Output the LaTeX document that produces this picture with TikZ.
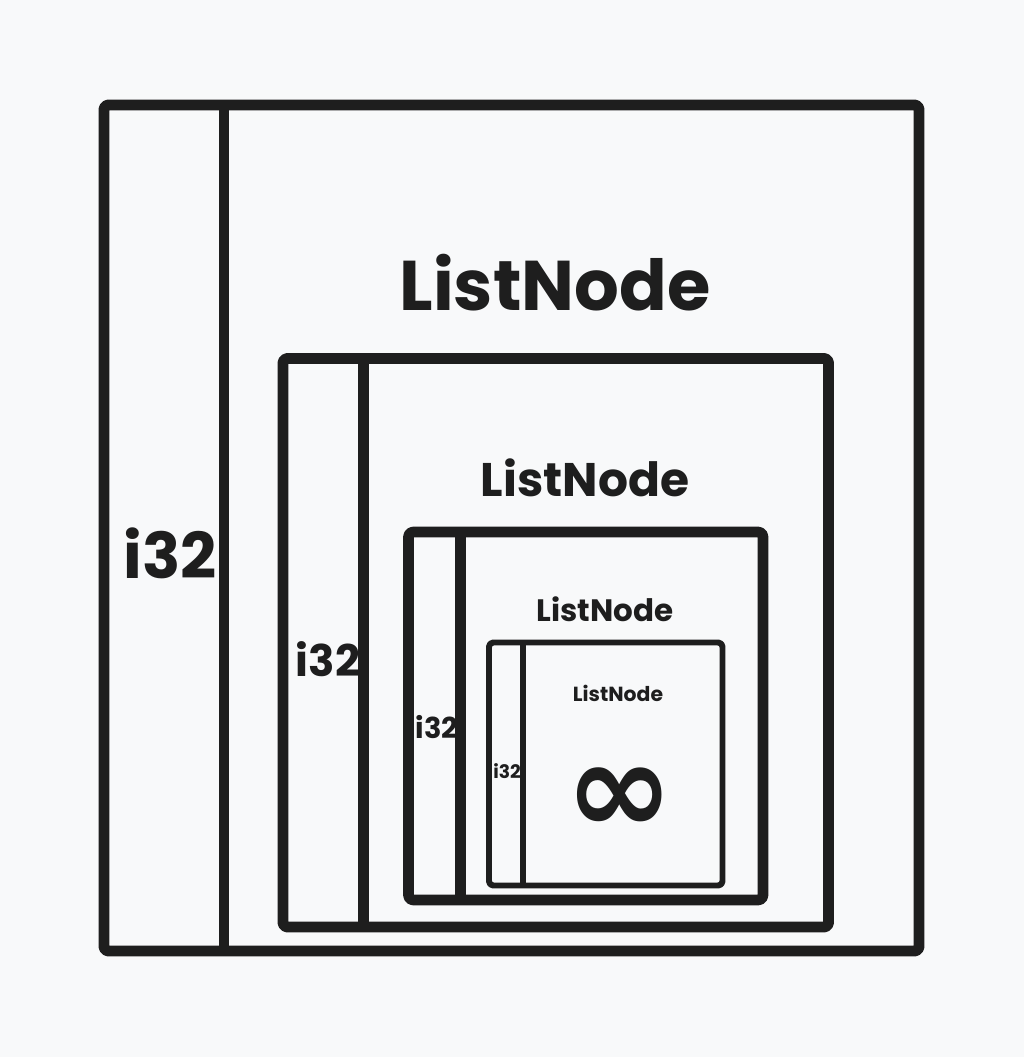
\documentclass[tikz,border=0pt]{standalone}
\usepackage{fontspec}
\setmainfont{Poppins}
\newfontfamily\symfont{DejaVu Sans}
\definecolor{ink}{HTML}{1E1E1E}
\definecolor{paper}{HTML}{F8F9FA}
\begin{document}
\begin{tikzpicture}[
        x=0.01cm, y=-0.01cm,
        frame/.style={draw=ink, line width=#1, rounded corners=1.2pt, line join=round},
        divider/.style={draw=ink, line width=#1},
        title/.style={font=\bfseries\fontsize{#1}{#1}\selectfont, text=ink, inner sep=0pt},
        field/.style={font=\bfseries\fontsize{#1}{#1}\selectfont, text=ink, inner sep=0pt}
    ]

    % Canvas
    \fill[paper] (0,0) rectangle (1024,1057);

    % Nested boxes: left, top, right, bottom, divider, width
    \foreach \k/\l/\t/\r/\b/\d/\w in {1/104/105/919/951/224/3.1pt,
                                      2/283/358.5/828.5/927/363.5/3.1pt,
                                      3/408.5/532/763/900/460.5/3.0pt,
                                      4/489/642.5/722.5/885.5/523/1.7pt} {
        \draw[frame=\w] (\l,\t) rectangle (\r,\b);
        \draw[divider=\w] (\d,\t) -- (\d,\b);
    }

    % Labels
    \foreach \k/\x/\y/\s in {1/555/283/20pt, 2/585/478/13.4pt, 3/605/609/8.8pt, 4/618/693/5.8pt}
        \node[title=\s] (list\k) at (\x,\y) {ListNode};
    \foreach \k/\x/\y/\s in {1/170/553/18pt, 2/328/659/12.4pt, 3/437/727/8.2pt, 4/507/771/5.3pt}
        \node[field=\s] (val\k) at (\x,\y) {i32};

    \node[font=\symfont\bfseries\fontsize{37pt}{37pt}\selectfont, text=ink, inner sep=0pt] (tail) at (620,801) {∞};

\end{tikzpicture}
\end{document}
